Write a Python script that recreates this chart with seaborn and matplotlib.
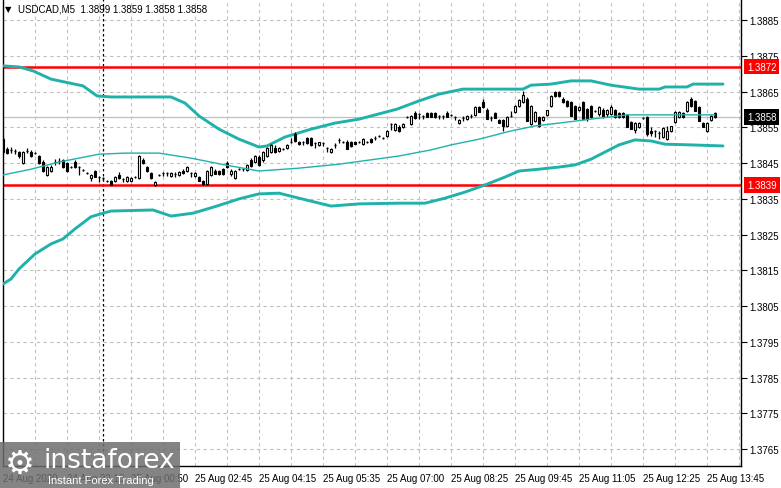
import matplotlib
matplotlib.use("Agg")
import matplotlib.pyplot as plt
import matplotlib.transforms as mtransforms
from matplotlib.patches import Rectangle
import numpy as np
import pandas as pd
import seaborn as sns

# USDCAD M5 candles (bar index 0..178)
opens = [
    1.38517, 1.38489, 1.38487, 1.38484, 1.38481, 1.38450, 1.38484, 1.38481, 1.38478, 1.38470,
    1.38453, 1.38417, 1.38428, 1.38453, 1.38455, 1.38459, 1.38450, 1.38439, 1.38453, 1.38439,
    1.38431, 1.38422, 1.38408, 1.38428, 1.38411, 1.38408, 1.38400, 1.38400, 1.38400, 1.38417,
    1.38406, 1.38400, 1.38400, 1.38411, 1.38408, 1.38459, 1.38439, 1.38422, 1.38389, 1.38417,
    1.38422, 1.38422, 1.38414, 1.38420, 1.38417, 1.38428, 1.38428, 1.38422, 1.38414, 1.38411,
    1.38400, 1.38392, 1.38417, 1.38428, 1.38428, 1.38433, 1.38450, 1.38419, 1.38408, 1.38433,
    1.38433, 1.38431, 1.38459, 1.38453, 1.38467, 1.38459, 1.38470, 1.38481, 1.38492, 1.38484,
    1.38489, 1.38492, 1.38509, 1.38531, 1.38509, 1.38509, 1.38520, 1.38520, 1.38506, 1.38501,
    1.38506, 1.38492, 1.38481, 1.38501, 1.38515, 1.38509, 1.38509, 1.38509, 1.38509, 1.38509,
    1.38503, 1.38509, 1.38517, 1.38520, 1.38526, 1.38520, 1.38526, 1.38559, 1.38543, 1.38551,
    1.38551, 1.38579, 1.38559, 1.38590, 1.38587, 1.38582, 1.38590, 1.38590, 1.38590, 1.38582,
    1.38582, 1.38590, 1.38585, 1.38579, 1.38562, 1.38576, 1.38573, 1.38582, 1.38585, 1.38607,
    1.38621, 1.38599, 1.38576, 1.38590, 1.38571, 1.38571, 1.38554, 1.38582, 1.38593, 1.38610,
    1.38621, 1.38629, 1.38559, 1.38568, 1.38579, 1.38571, 1.38585, 1.38610, 1.38649, 1.38649,
    1.38629, 1.38624, 1.38621, 1.38610, 1.38599, 1.38621, 1.38601, 1.38610, 1.38596, 1.38587,
    1.38599, 1.38587, 1.38587, 1.38599, 1.38590, 1.38590, 1.38585, 1.38565, 1.38543, 1.38551,
    1.38576, 1.38579, 1.38540, 1.38540, 1.38534, 1.38523, 1.38517, 1.38540, 1.38565, 1.38579,
    1.38590, 1.38596, 1.38629, 1.38624, 1.38607, 1.38562, 1.38540, 1.38571, 1.38590,
]
highs = [
    1.38523, 1.38495, 1.38495, 1.38489, 1.38484, 1.38484, 1.38492, 1.38487, 1.38481, 1.38473,
    1.38459, 1.38442, 1.38445, 1.38461, 1.38464, 1.38461, 1.38453, 1.38442, 1.38459, 1.38442,
    1.38433, 1.38425, 1.38419, 1.38431, 1.38414, 1.38411, 1.38403, 1.38403, 1.38414, 1.38425,
    1.38408, 1.38414, 1.38411, 1.38414, 1.38473, 1.38464, 1.38442, 1.38425, 1.38400, 1.38419,
    1.38425, 1.38425, 1.38425, 1.38425, 1.38428, 1.38433, 1.38442, 1.38425, 1.38425, 1.38414,
    1.38403, 1.38431, 1.38442, 1.38433, 1.38431, 1.38436, 1.38455, 1.38433, 1.38431, 1.38436,
    1.38436, 1.38447, 1.38464, 1.38473, 1.38473, 1.38484, 1.38495, 1.38503, 1.38501, 1.38495,
    1.38492, 1.38503, 1.38520, 1.38537, 1.38512, 1.38512, 1.38523, 1.38523, 1.38509, 1.38509,
    1.38509, 1.38495, 1.38492, 1.38506, 1.38520, 1.38512, 1.38515, 1.38512, 1.38512, 1.38512,
    1.38520, 1.38512, 1.38520, 1.38526, 1.38529, 1.38523, 1.38543, 1.38562, 1.38562, 1.38556,
    1.38562, 1.38582, 1.38585, 1.38596, 1.38590, 1.38585, 1.38593, 1.38593, 1.38593, 1.38585,
    1.38585, 1.38596, 1.38587, 1.38582, 1.38573, 1.38582, 1.38585, 1.38587, 1.38610, 1.38610,
    1.38629, 1.38604, 1.38582, 1.38593, 1.38573, 1.38573, 1.38582, 1.38596, 1.38612, 1.38629,
    1.38651, 1.38635, 1.38612, 1.38596, 1.38582, 1.38582, 1.38599, 1.38640, 1.38652, 1.38652,
    1.38635, 1.38626, 1.38624, 1.38612, 1.38610, 1.38624, 1.38604, 1.38612, 1.38599, 1.38610,
    1.38604, 1.38601, 1.38612, 1.38601, 1.38593, 1.38593, 1.38587, 1.38568, 1.38565, 1.38565,
    1.38579, 1.38582, 1.38551, 1.38543, 1.38540, 1.38551, 1.38554, 1.38554, 1.38596, 1.38596,
    1.38593, 1.38624, 1.38635, 1.38626, 1.38610, 1.38565, 1.38565, 1.38585, 1.38593,
]
lows = [
    1.38475, 1.38475, 1.38478, 1.38475, 1.38465, 1.38447, 1.38478, 1.38467, 1.38475, 1.38447,
    1.38425, 1.38414, 1.38425, 1.38445, 1.38448, 1.38436, 1.38425, 1.38436, 1.38436, 1.38417,
    1.38428, 1.38420, 1.38400, 1.38411, 1.38397, 1.38400, 1.38397, 1.38389, 1.38397, 1.38406,
    1.38397, 1.38397, 1.38397, 1.38408, 1.38406, 1.38447, 1.38425, 1.38406, 1.38386, 1.38414,
    1.38414, 1.38414, 1.38411, 1.38411, 1.38414, 1.38420, 1.38425, 1.38411, 1.38411, 1.38400,
    1.38389, 1.38389, 1.38414, 1.38419, 1.38417, 1.38417, 1.38436, 1.38414, 1.38406, 1.38431,
    1.38428, 1.38428, 1.38439, 1.38450, 1.38442, 1.38453, 1.38467, 1.38478, 1.38478, 1.38481,
    1.38487, 1.38489, 1.38506, 1.38509, 1.38501, 1.38501, 1.38503, 1.38498, 1.38492, 1.38498,
    1.38498, 1.38481, 1.38478, 1.38492, 1.38506, 1.38506, 1.38489, 1.38495, 1.38503, 1.38506,
    1.38501, 1.38506, 1.38506, 1.38515, 1.38523, 1.38517, 1.38523, 1.38543, 1.38540, 1.38537,
    1.38548, 1.38576, 1.38556, 1.38573, 1.38573, 1.38573, 1.38579, 1.38579, 1.38576, 1.38573,
    1.38573, 1.38579, 1.38582, 1.38571, 1.38559, 1.38568, 1.38571, 1.38576, 1.38582, 1.38593,
    1.38604, 1.38573, 1.38568, 1.38576, 1.38562, 1.38540, 1.38551, 1.38579, 1.38590, 1.38607,
    1.38618, 1.38568, 1.38556, 1.38565, 1.38551, 1.38568, 1.38582, 1.38607, 1.38635, 1.38635,
    1.38618, 1.38607, 1.38582, 1.38573, 1.38596, 1.38573, 1.38568, 1.38576, 1.38593, 1.38582,
    1.38576, 1.38579, 1.38585, 1.38576, 1.38576, 1.38576, 1.38551, 1.38545, 1.38534, 1.38548,
    1.38573, 1.38526, 1.38526, 1.38523, 1.38517, 1.38520, 1.38515, 1.38537, 1.38562, 1.38576,
    1.38576, 1.38593, 1.38607, 1.38596, 1.38568, 1.38551, 1.38537, 1.38568, 1.38576,
]
closes = [
    1.38481, 1.38478, 1.38487, 1.38484, 1.38470, 1.38481, 1.38484, 1.38470, 1.38478, 1.38450,
    1.38428, 1.38439, 1.38439, 1.38453, 1.38456, 1.38439, 1.38428, 1.38439, 1.38439, 1.38439,
    1.38431, 1.38422, 1.38417, 1.38411, 1.38411, 1.38408, 1.38400, 1.38389, 1.38411, 1.38408,
    1.38406, 1.38411, 1.38408, 1.38411, 1.38470, 1.38450, 1.38428, 1.38408, 1.38397, 1.38417,
    1.38422, 1.38422, 1.38422, 1.38420, 1.38425, 1.38422, 1.38439, 1.38422, 1.38422, 1.38400,
    1.38392, 1.38428, 1.38439, 1.38419, 1.38419, 1.38419, 1.38439, 1.38428, 1.38428, 1.38433,
    1.38433, 1.38445, 1.38442, 1.38470, 1.38445, 1.38481, 1.38492, 1.38501, 1.38481, 1.38492,
    1.38489, 1.38501, 1.38509, 1.38512, 1.38503, 1.38509, 1.38506, 1.38501, 1.38506, 1.38509,
    1.38506, 1.38492, 1.38489, 1.38501, 1.38515, 1.38509, 1.38489, 1.38498, 1.38503, 1.38509,
    1.38517, 1.38509, 1.38509, 1.38520, 1.38526, 1.38520, 1.38540, 1.38559, 1.38559, 1.38540,
    1.38559, 1.38579, 1.38582, 1.38576, 1.38587, 1.38582, 1.38579, 1.38579, 1.38579, 1.38582,
    1.38582, 1.38579, 1.38585, 1.38579, 1.38571, 1.38576, 1.38582, 1.38582, 1.38607, 1.38593,
    1.38607, 1.38573, 1.38576, 1.38576, 1.38562, 1.38554, 1.38579, 1.38582, 1.38610, 1.38626,
    1.38640, 1.38568, 1.38610, 1.38593, 1.38554, 1.38579, 1.38599, 1.38638, 1.38638, 1.38638,
    1.38621, 1.38610, 1.38582, 1.38573, 1.38607, 1.38573, 1.38573, 1.38579, 1.38596, 1.38607,
    1.38579, 1.38599, 1.38607, 1.38579, 1.38579, 1.38579, 1.38551, 1.38545, 1.38562, 1.38562,
    1.38576, 1.38531, 1.38534, 1.38540, 1.38534, 1.38548, 1.38540, 1.38554, 1.38593, 1.38593,
    1.38579, 1.38621, 1.38610, 1.38596, 1.38568, 1.38551, 1.38562, 1.38582, 1.38580,
]

# Bollinger-style envelope (bar index, price)
upper_idx = [0, 4, 7.5, 12, 20, 23.5, 27, 42, 45.5, 49, 54, 59, 64, 66, 70.5, 77, 83, 89,
             98.5, 104, 109, 115, 130, 132, 137, 142, 147, 152, 159, 164, 165.5, 171, 172.5, 180]
upper_val = [1.38722, 1.38719, 1.38708, 1.38685, 1.38666, 1.38638, 1.38635, 1.38635, 1.38618,
             1.38582, 1.38545, 1.38517, 1.38495, 1.38498, 1.38523, 1.38545, 1.38562, 1.38573,
             1.38601, 1.38624, 1.38643, 1.38657, 1.38657, 1.38668, 1.38671, 1.38680, 1.38680,
             1.38668, 1.38657, 1.38657, 1.38663, 1.38663, 1.38671, 1.38671]
lower_idx = [0, 2, 4, 8, 12, 15, 18, 22, 25, 27, 37.5, 42, 47.5, 53.5, 59, 64, 69, 74, 82,
             89, 99, 105.5, 110.5, 115.5, 120.5, 125.5, 129, 134, 139, 143, 147, 150.5, 154,
             158, 162, 165.5, 172, 180]
lower_val = [1.38112, 1.38126, 1.38154, 1.38196, 1.38224, 1.38238, 1.38266, 1.38300, 1.38310,
             1.38316, 1.38319, 1.38302, 1.38310, 1.38330, 1.38350, 1.38364, 1.38366, 1.38352,
             1.38330, 1.38336, 1.38338, 1.38338, 1.38352, 1.38369, 1.38389, 1.38411, 1.38428,
             1.38433, 1.38439, 1.38445, 1.38461, 1.38481, 1.38501, 1.38515, 1.38512, 1.38503,
             1.38501, 1.38498]
mid_idx = [0, 7, 14, 24, 30.5, 39, 47, 55.5, 64, 74, 84, 99, 107, 112, 119, 127, 133, 139,
           147, 156, 169, 178]
mid_val = [1.38417, 1.38433, 1.38453, 1.38475, 1.38478, 1.38478, 1.38464, 1.38445, 1.38428,
           1.38436, 1.38447, 1.38470, 1.38487, 1.38501, 1.38517, 1.38540, 1.38554, 1.38562,
           1.38573, 1.38585, 1.38585, 1.38585]

level_hi = 1.3872
level_lo = 1.3839
last_price = 1.3858

tick_bars = [0, 16, 32, 48, 64, 80, 96, 112, 128, 144, 160, 176]
tick_labels = ["24 Aug 2020", "24 Aug 22:10", "25 Aug 00:50", "25 Aug 02:45", "25 Aug 04:15",
               "25 Aug 05:35", "25 Aug 07:00", "25 Aug 08:25", "25 Aug 09:45", "25 Aug 11:05",
               "25 Aug 12:25", "25 Aug 13:45"]
day_sep_bar = 25
title_text = "USDCAD,M5  1.3899 1.3859 1.3858 1.3858"

sns.set_theme(style="white")
plt.rcParams['font.family'] = ['Liberation Sans', 'DejaVu Sans']

W, H = 781, 489
fig = plt.figure(figsize=(W / 100, H / 100), dpi=100)
ax = fig.add_axes([3 / W, 1 - 467 / H, 738 / W, 467 / H])
ax.set_facecolor("white")

teal = "#20b2aa"
grid_kw = dict(color="#c0c0c0", linewidth=0.8, linestyle=(0, (3, 3)), zorder=0)

# grid
for b in range(0, 185, 8):
    ax.axvline(b, **grid_kw)
yticks = np.round(np.arange(1.3765, 1.38851, 0.001), 4)
for yt in yticks:
    ax.axhline(yt, **grid_kw)

ax.axvline(day_sep_bar, color="black", linewidth=0.9, linestyle=(0, (2, 2)), zorder=1)
ax.axhline(last_price, color="#c0c0c0", linewidth=0.9, zorder=1)
ax.axhline(level_hi, color="red", linewidth=1.8, zorder=2)
ax.axhline(level_lo, color="red", linewidth=1.8, zorder=2)

# bands
bands = pd.concat([
    pd.DataFrame({"bar": upper_idx, "price": upper_val, "band": "upper"}),
    pd.DataFrame({"bar": lower_idx, "price": lower_val, "band": "lower"}),
])
sns.lineplot(data=bands, x="bar", y="price", units="band", estimator=None,
             color=teal, linewidth=2.1, ax=ax, zorder=3)
sns.lineplot(x=mid_idx, y=mid_val, color=teal, linewidth=1.0, ax=ax, zorder=5)

# candles
df = pd.DataFrame({"o": opens, "h": highs, "l": lows, "c": closes})
df["bar"] = np.arange(len(df))
w = 0.72
ax.vlines(df["bar"], df["l"], df["h"], color="black", linewidth=0.9, zorder=4)
for _, r in df.iterrows():
    lo, hi = min(r.o, r.c), max(r.o, r.c)
    if hi - lo < 0.00002:
        ax.hlines((r.o + r.c) / 2, r.bar - w / 2, r.bar + w / 2, color="black",
                  linewidth=0.9, zorder=4.5)
    else:
        fc = "white" if r.c > r.o else "black"
        ax.bar(r.bar, hi - lo, bottom=lo, width=w, color=fc, edgecolor="black",
               linewidth=0.8, zorder=4.5)

ax.set_xlim(0, 184.5)
ax.set_ylim(1.37603, 1.38909)

ax.set_xticks(tick_bars)
ax.set_xticklabels(tick_labels, ha="left", fontsize=7)
ax.set_yticks(yticks)
ax.set_yticklabels([f"{v:.4f}" for v in yticks], fontsize=7)
ax.yaxis.tick_right()
ax.tick_params(axis="both", direction="out", length=4, width=0.8, color="black",
               labelcolor="black", pad=2)
ax.tick_params(axis="x", pad=1)
ax.set_xlabel("")
ax.set_ylabel("")
for s in ["left", "bottom", "right"]:
    ax.spines[s].set_color("black")
    ax.spines[s].set_linewidth(1)
ax.spines["top"].set_visible(False)

# price labels on the right scale
trans = mtransforms.blended_transform_factory(ax.transAxes, ax.transData)
for val, fc in [(level_hi, "red"), (level_lo, "red"), (last_price, "black")]:
    ax.text(1.0 + 6 / 738, val, f"{val:.4f}", transform=trans, fontsize=7, color="white",
            va="center", ha="left", zorder=10, clip_on=False,
            bbox=dict(boxstyle="square,pad=0.3", fc=fc, ec="none"))

# title
fig.text(5 / W, 1 - 10 / H, "▼", fontsize=6, va="center", ha="left", color="black",
         family=["DejaVu Sans"])
fig.text(18 / W, 1 - 10 / H, title_text, fontsize=7, va="center", ha="left", color="black")

# watermark
fig.patches.append(Rectangle((0, 0), 180 / W, 46 / H, transform=fig.transFigure,
                             facecolor="#6e6e6e", alpha=0.85, edgecolor="none", zorder=20))
fig.text(5 / W, 25 / H, "⚙", fontsize=24, color="white", va="center", ha="left",
         family=["DejaVu Sans"], zorder=21)
fig.text(44 / W, 28 / H, "instaforex", fontsize=19, color="white", va="center", ha="left",
         family=["DejaVu Sans"], zorder=21)
fig.text(48 / W, 8 / H, "Instant Forex Trading", fontsize=8, color="white", va="center",
         ha="left", zorder=21)

fig.savefig("out.png", dpi=100)
